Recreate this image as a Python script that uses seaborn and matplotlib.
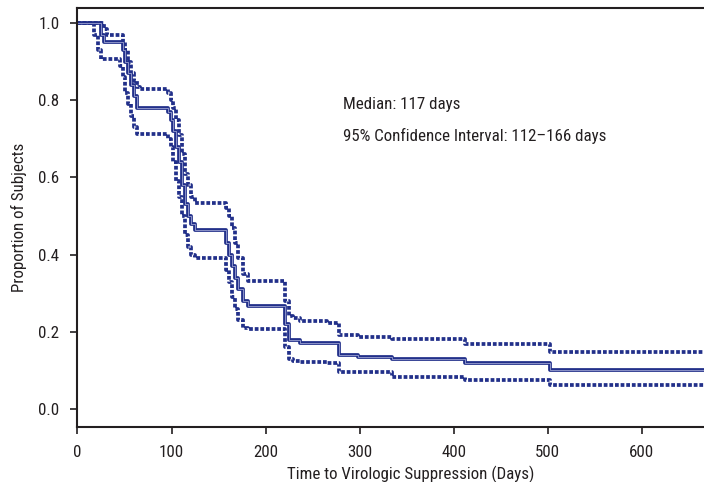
import matplotlib
matplotlib.use("Agg")
import matplotlib.pyplot as plt
from matplotlib import font_manager
import seaborn as sns
import pandas as pd

# ---- data ----
days = [0, 18, 22, 25, 28, 31, 45, 48, 51, 54, 57, 60, 63, 66, 93, 96, 99, 102,
        105, 108, 111, 114, 117, 121, 125, 155, 158, 161, 164, 167, 171, 176,
        181, 217, 221, 225, 229, 237, 265, 278, 298, 334, 412, 502, 666]
survival = [1.0, 1.0, 1.0, 0.97, 0.95, 0.95, 0.95, 0.93, 0.90, 0.87, 0.84, 0.81,
            0.78, 0.78, 0.78, 0.77, 0.75, 0.72, 0.68, 0.64, 0.58, 0.53, 0.50,
            0.48, 0.464, 0.464, 0.43, 0.40, 0.37, 0.34, 0.31, 0.28, 0.266,
            0.266, 0.22, 0.18, 0.178, 0.172, 0.172, 0.14, 0.134, 0.129, 0.119,
            0.10, 0.10]
lower_ci = [1.0, 0.97, 0.93, 0.906, 0.906, 0.906, 0.89, 0.86, 0.82, 0.79, 0.76,
            0.73, 0.713, 0.713, 0.713, 0.70, 0.68, 0.64, 0.59, 0.55, 0.50, 0.45,
            0.42, 0.40, 0.39, 0.39, 0.36, 0.33, 0.29, 0.26, 0.23, 0.21, 0.207,
            0.207, 0.16, 0.13, 0.124, 0.122, 0.120, 0.095, 0.095, 0.083, 0.075,
            0.062, 0.062]
upper_ci = [1.0, 1.0, 1.0, 1.0, 0.985, 0.969, 0.969, 0.95, 0.93, 0.90, 0.87,
            0.85, 0.835, 0.829, 0.829, 0.82, 0.80, 0.78, 0.75, 0.71, 0.66, 0.61,
            0.58, 0.55, 0.535, 0.535, 0.52, 0.50, 0.47, 0.43, 0.39, 0.35, 0.331,
            0.331, 0.28, 0.24, 0.235, 0.228, 0.222, 0.191, 0.186, 0.181, 0.168,
            0.147, 0.147]

x_ticks = [0, 100, 200, 300, 400, 500, 600]
y_ticks = [0.0, 0.2, 0.4, 0.6, 0.8, 1.0]
annotations = ["Median: 117 days", "95% Confidence Interval: 112\u2013166 days"]

df = pd.DataFrame({"days": days, "survival": survival,
                   "lower": lower_ci, "upper": upper_ci})

sns.set_style("white")
names = {f.name for f in font_manager.fontManager.ttflist}
fam = "DejaVu Sans"
for cand in ["Roboto Condensed", "Archivo Narrow", "PT Sans Narrow", "Liberation Sans"]:
    if cand in names:
        fam = cand
        break
plt.rcParams["font.family"] = [fam, "DejaVu Sans"]

NAVY = "#22308a"
INK = "#231f20"
FS = 12.2

fig = plt.figure(figsize=(7.04, 4.82), dpi=100)
ax = fig.add_axes([0.110, 0.1141, 0.890, 0.8693])

for col in ["lower", "upper"]:
    sns.lineplot(data=df, x="days", y=col, ax=ax, drawstyle="steps-post",
                 color=NAVY, linewidth=2.7, linestyle=(0, (1.0, 0.5)),
                 estimator=None, legend=False)
for ln in ax.lines:
    ln.set_dash_capstyle("butt")

sns.lineplot(data=df, x="days", y="survival", ax=ax, drawstyle="steps-post",
             color=NAVY, linewidth=2.7, estimator=None, legend=False)
sns.lineplot(data=df, x="days", y="survival", ax=ax, drawstyle="steps-post",
             color="#8c93c8", linewidth=0.7, estimator=None, legend=False)

ax.set_xlim(0, 666)
ax.set_ylim(-0.0466, 1.039)
ax.set_xticks(x_ticks)
ax.set_xticklabels([str(v) for v in x_ticks])
ax.set_yticks(y_ticks)
ax.set_yticklabels([f"{v:.1f}" for v in y_ticks])

for s in ["left", "bottom", "top"]:
    ax.spines[s].set_visible(True)
    ax.spines[s].set_color(INK)
    ax.spines[s].set_linewidth(1.5)
ax.spines["right"].set_visible(False)

ax.tick_params(axis="both", direction="out", length=5, width=1.2,
               color=INK, labelcolor=INK, labelsize=FS, pad=8,
               left=True, bottom=True)

ax.set_xlabel("Time to Virologic Suppression (Days)", fontsize=FS, color=INK)
ax.xaxis.set_label_coords(0.532, -0.092)
ax.set_ylabel("Proportion of Subjects", fontsize=FS, color=INK, labelpad=8)

ax.text(282, 0.788, annotations[0], fontsize=FS, color=INK, va="center")
ax.text(282, 0.708, annotations[1], fontsize=FS, color=INK, va="center")

fig.savefig("out.png", dpi=100)
